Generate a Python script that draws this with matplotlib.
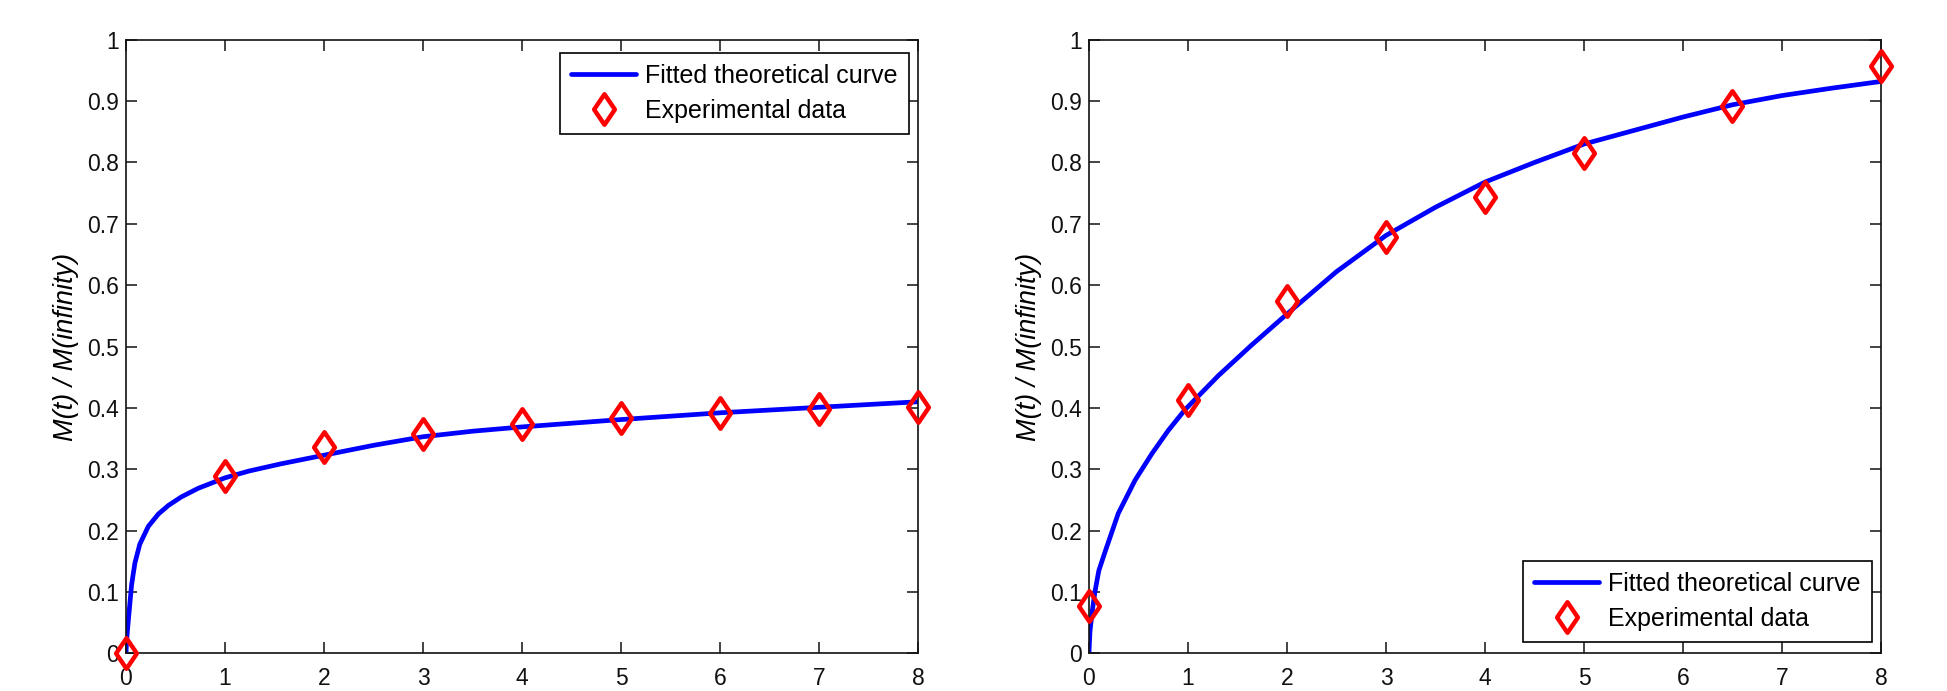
import matplotlib
matplotlib.use("Agg")
import matplotlib.pyplot as plt
from matplotlib.path import Path
from matplotlib.ticker import FuncFormatter

plt.rcParams['font.family'] = ['Liberation Sans', 'DejaVu Sans']

left_curve_t = [0, 0.007, 0.024, 0.057, 0.09, 0.14, 0.226, 0.327, 0.428, 0.56, 0.73, 1.0, 1.24,
                1.57, 1.91, 2.5, 3, 3.5, 4, 5, 6, 7, 8]
left_curve_y = [0, 0.022, 0.054, 0.112, 0.147, 0.178, 0.207, 0.227, 0.241, 0.255, 0.269, 0.286,
                0.297, 0.309, 0.320, 0.339, 0.353, 0.362, 0.369, 0.381, 0.392, 0.401, 0.410]
left_t = [0, 1, 2, 3, 4, 5, 6, 7, 8]
left_y = [0, 0.289, 0.336, 0.358, 0.374, 0.384, 0.392, 0.398, 0.402]

# right panel
right_curve_t = [0, 0.01, 0.03, 0.06, 0.1, 0.168, 0.296, 0.465, 0.634, 0.80, 0.97, 1.31, 1.64,
                 2.0, 2.5, 3, 3.5, 4, 4.5, 5, 5.5, 6, 6.5, 7, 7.5, 8]
right_curve_y = [0, 0.035, 0.065, 0.100, 0.135, 0.168, 0.228, 0.282, 0.325, 0.363, 0.397, 0.453,
                 0.502, 0.553, 0.622, 0.681, 0.727, 0.768, 0.800, 0.830, 0.852, 0.874,
                 0.894, 0.909, 0.921, 0.932]
right_t = [0, 1, 2, 3, 4, 5, 6.5, 8]
right_y = [0.077, 0.413, 0.575, 0.679, 0.744, 0.815, 0.892, 0.957]

x_ticks = list(range(0, 9))
y_ticks = [i / 10 for i in range(0, 11)]
curve_label = 'Fitted theoretical curve'
data_label = 'Experimental data'
y_label = 'M(t) / M(infinity)'

# MATLAB style diamond, a bit wider than matplotlib's thin_diamond
diamond = Path([(0, -1), (0.68, 0), (0, 1), (-0.68, 0), (0, -1)],
               [Path.MOVETO, Path.LINETO, Path.LINETO, Path.LINETO, Path.CLOSEPOLY])

fig = plt.figure(figsize=(19.47, 6.91), dpi=100)
ax1 = fig.add_axes([0.0647, 0.0545, 0.4068, 0.888])
ax2 = fig.add_axes([0.5593, 0.0545, 0.4068, 0.888])


def style_axes(ax):
    ax.set_xlim(0, 8)
    ax.set_ylim(0, 1)
    ax.set_xticks(x_ticks)
    ax.set_yticks(y_ticks)
    ax.yaxis.set_major_formatter(FuncFormatter(lambda v, p: '%g' % round(v, 2)))
    ax.tick_params(direction='in', length=8, width=1.1, top=True, right=True,
                   labelsize=16.5, colors='#111111')
    ax.tick_params(axis='x', pad=10)
    ax.tick_params(axis='y', pad=5)
    for s in ax.spines.values():
        s.set_linewidth(1.2)
        s.set_color('#111111')
    ax.set_ylabel(y_label, fontsize=19.5, style='italic', labelpad=6)


for ax, ct, cy, t, y in [(ax1, left_curve_t, left_curve_y, left_t, left_y),
                         (ax2, right_curve_t, right_curve_y, right_t, right_y)]:
    ax.plot(ct, cy, color='#0000ff', lw=3.4, label=curve_label,
            solid_joinstyle='round', solid_capstyle='round')
    ax.plot(t, y, linestyle='none', marker=diamond, ms=22, mew=3.2, mec='#ff0000', mfc='none',
            label=data_label, clip_on=False, zorder=5)
    style_axes(ax)

leg_kw = dict(fontsize=18, frameon=True, fancybox=False, framealpha=1, edgecolor='black',
              handlelength=2.6, handletextpad=0.35, borderpad=0.45, labelspacing=0.45,
              borderaxespad=0, numpoints=1)
l1 = ax1.legend(loc='upper right', bbox_to_anchor=(0.9886, 0.979), **leg_kw)
l2 = ax2.legend(loc='lower right', bbox_to_anchor=(0.9886, 0.018), **leg_kw)
for l in (l1, l2):
    l.get_frame().set_linewidth(1.2)

fig.savefig('out.png', dpi=100, facecolor='white')
